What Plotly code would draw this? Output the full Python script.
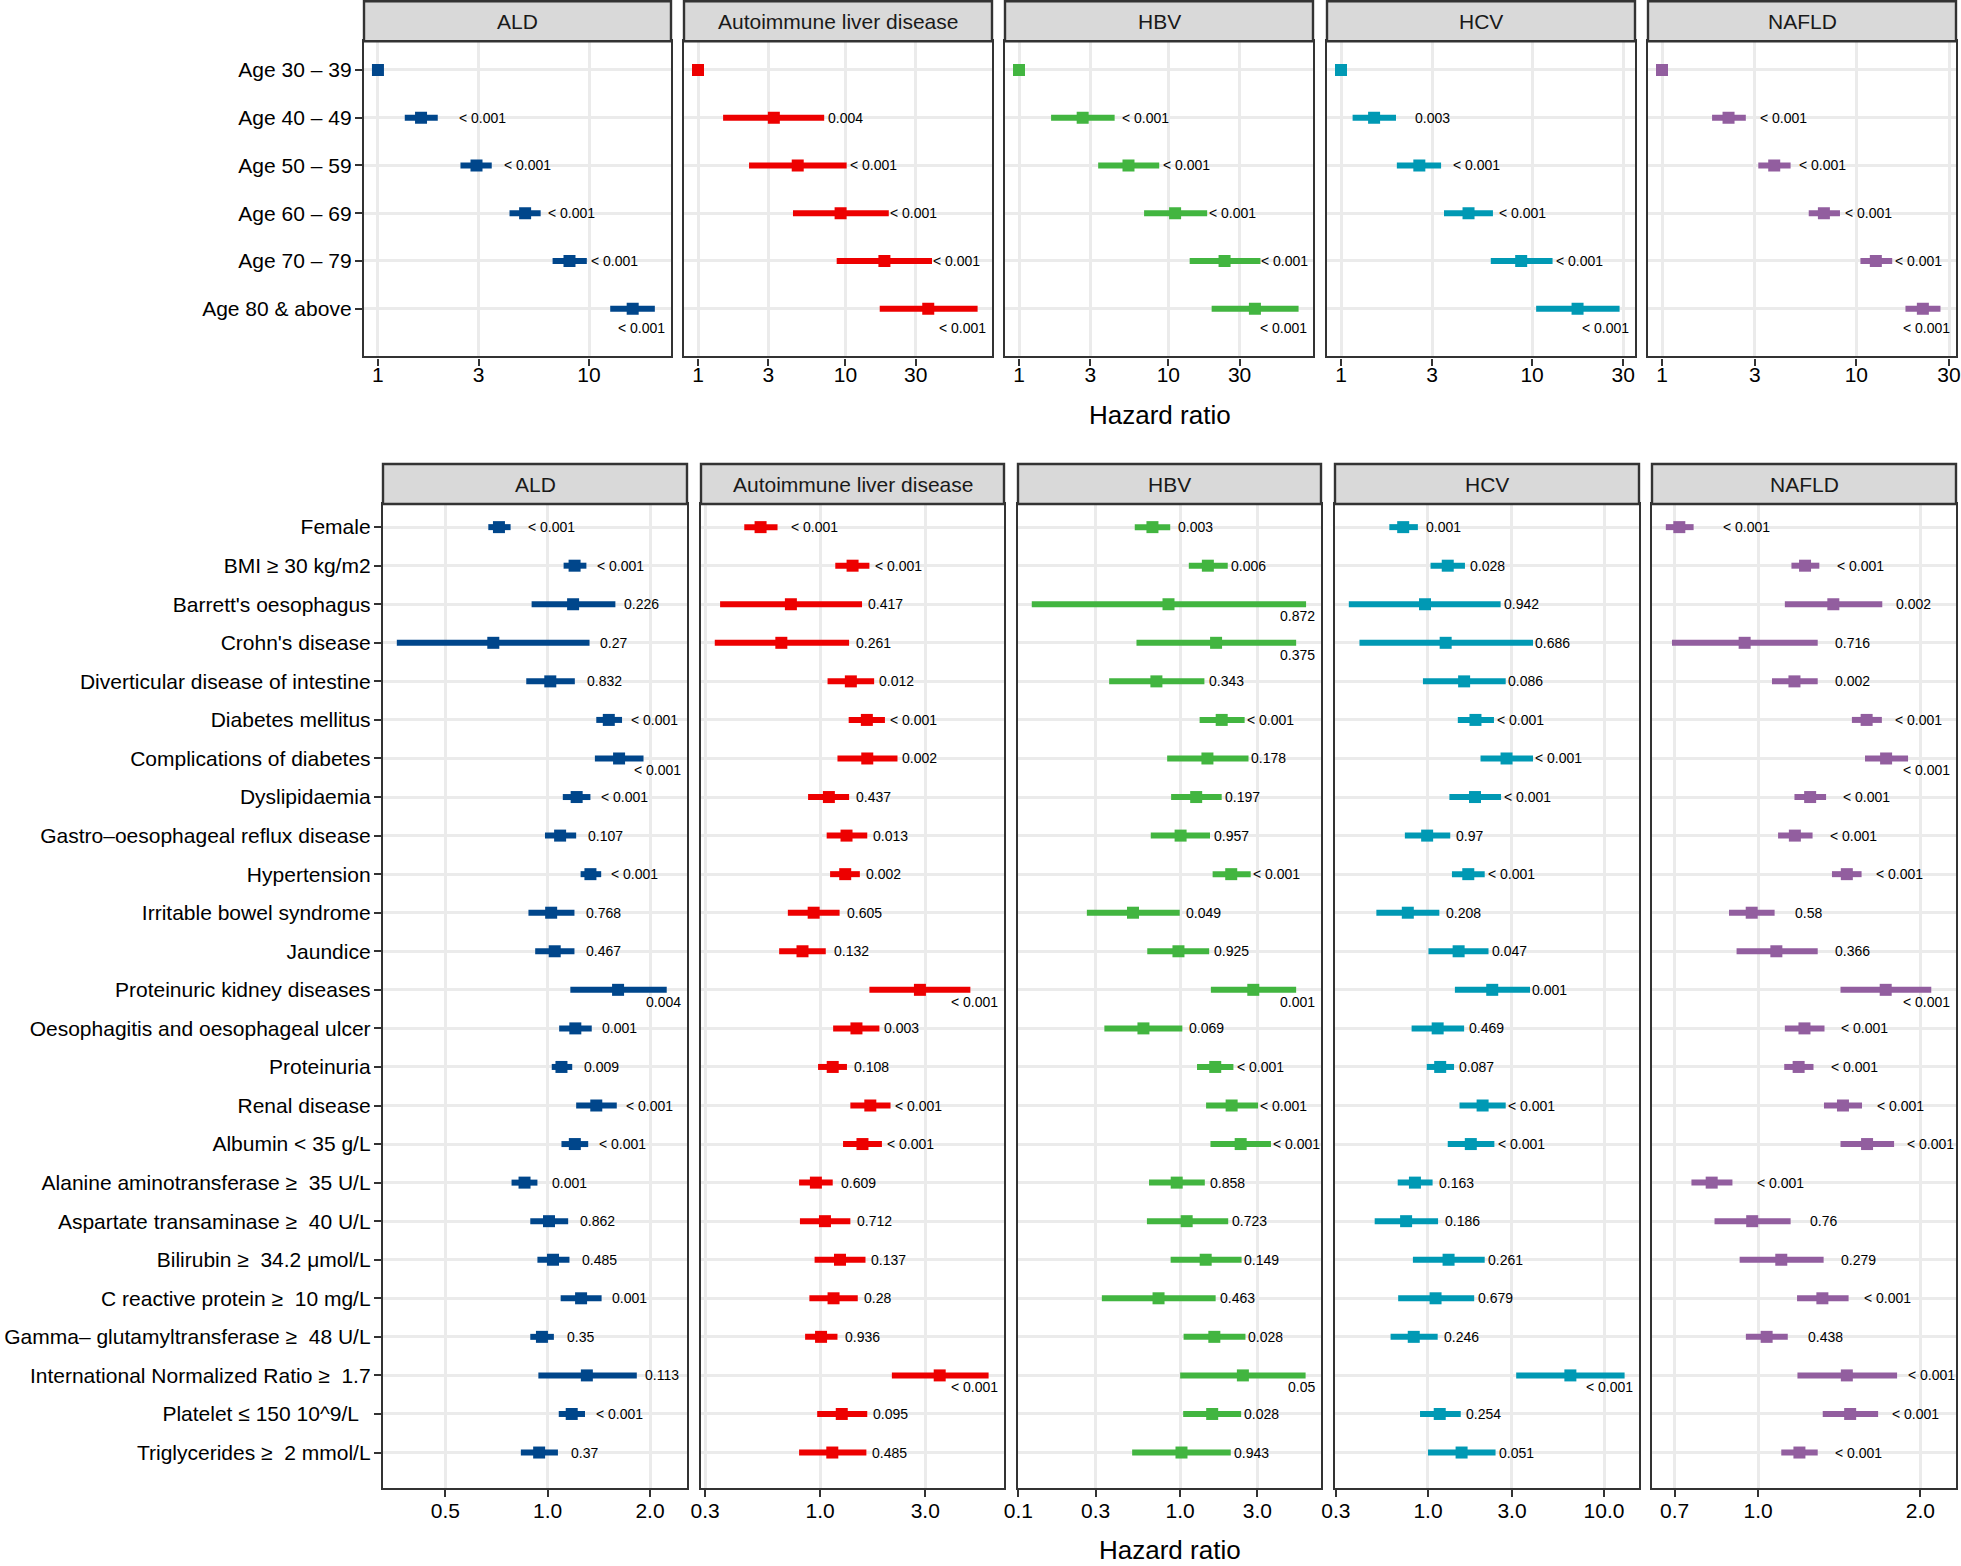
import numpy as np
import plotly.graph_objects as go

# ---------------- data ----------------
DISEASES = ["ALD", "Autoimmune liver disease", "HBV", "HCV", "NAFLD"]
COLORS = ["#00468B", "#ED0000", "#42B540", "#0099B4", "#925E9F"]

AGE_GROUPS = ["Age 30 – 39", "Age 40 – 49", "Age 50 – 59", "Age 60 – 69",
              "Age 70 – 79", "Age 80 & above"]

AGE_HR = {
    "ALD": [1, 1.60, 2.93, 4.98, 8.08, 16.1],
    "Autoimmune liver disease": [1, 3.27, 4.75, 9.28, 18.4, 36.5],
    "HBV": [1, 2.67, 5.41, 11.1, 23.8, 38.0],
    "HCV": [1, 1.49, 2.57, 4.65, 8.77, 17.3],
    "NAFLD": [1, 2.20, 3.78, 6.81, 12.6, 22.0],
}
AGE_LO = {
    "ALD": [1, 1.34, 2.46, 4.20, 6.72, 12.6],
    "Autoimmune liver disease": [1, 1.48, 2.22, 4.41, 8.73, 17.1],
    "HBV": [1, 1.64, 3.39, 6.88, 13.9, 19.5],
    "HCV": [1, 1.15, 1.96, 3.46, 6.08, 10.5],
    "NAFLD": [1, 1.81, 3.13, 5.69, 10.5, 17.9],
}
AGE_HI = {
    "ALD": [1, 1.92, 3.46, 5.90, 9.76, 20.5],
    "Autoimmune liver disease": [1, 7.18, 10.2, 19.7, 38.7, 78.9],
    "HBV": [1, 4.37, 8.69, 18.2, 41.4, 74.5],
    "HCV": [1, 1.94, 3.34, 6.24, 12.8, 28.7],
    "NAFLD": [1, 2.70, 4.59, 8.24, 15.3, 27.1],
}
AGE_P = {
    "ALD": ["", "< 0.001", "< 0.001", "< 0.001", "< 0.001", "< 0.001"],
    "Autoimmune liver disease": ["", "0.004", "< 0.001", "< 0.001", "< 0.001", "< 0.001"],
    "HBV": ["", "< 0.001", "< 0.001", "< 0.001", "< 0.001", "< 0.001"],
    "HCV": ["", "0.003", "< 0.001", "< 0.001", "< 0.001", "< 0.001"],
    "NAFLD": ["", "< 0.001", "< 0.001", "< 0.001", "< 0.001", "< 0.001"],
}
AGE_TICKS = {
    "ALD": [1, 3, 10],
    "Autoimmune liver disease": [1, 3, 10, 30],
    "HBV": [1, 3, 10, 30],
    "HCV": [1, 3, 10, 30],
    "NAFLD": [1, 3, 10, 30],
}

NBSP = "\u00a0"
COVARIATES = [
    "Female", "BMI ≥ 30 kg/m2", "Barrett's oesophagus", "Crohn's disease",
    "Diverticular disease of intestine", "Diabetes mellitus",
    "Complications of diabetes", "Dyslipidaemia",
    "Gastro–oesophageal reflux disease", "Hypertension",
    "Irritable bowel syndrome", "Jaundice", "Proteinuric kidney diseases",
    "Oesophagitis and oesophageal ulcer", "Proteinuria", "Renal disease",
    "Albumin < 35 g/L", "Alanine aminotransferase ≥" + NBSP * 2 + "35 U/L",
    "Aspartate transaminase ≥" + NBSP * 2 + "40 U/L",
    "Bilirubin ≥" + NBSP * 2 + "34.2 μmol/L",
    "C reactive protein ≥" + NBSP * 2 + "10 mg/L",
    "Gamma– glutamyltransferase ≥" + NBSP * 2 + "48 U/L",
    "International Normalized Ratio ≥" + NBSP * 2 + "1.7",
    "Platelet ≤ 150 10^9/L" + NBSP * 2,
    "Triglycerides ≥" + NBSP * 2 + "2 mmol/L",
]

COV_HR = {
    "ALD": [0.719, 1.20, 1.188, 0.692, 1.018, 1.513, 1.622, 1.217, 1.088, 1.336, 1.024, 1.049, 1.611,
            1.206, 1.098, 1.39, 1.202, 0.855, 1.009, 1.037, 1.254, 0.962, 1.304, 1.177, 0.944],
    "Autoimmune liver disease": [0.536, 1.403, 0.736, 0.666, 1.378, 1.629, 1.636, 1.095, 1.317, 1.299,
                                 0.934, 0.831, 2.838, 1.461, 1.140, 1.689, 1.556, 0.956, 1.051, 1.230,
                                 1.150, 1.009, 3.49, 1.253, 1.135],
    "HBV": [0.674, 1.483, 0.847, 1.667, 0.713, 1.806, 1.474, 1.256, 1.006, 2.068, 0.511, 0.976, 2.831,
            0.593, 1.647, 2.080, 2.366, 0.952, 1.097, 1.438, 0.735, 1.626, 2.441, 1.577, 1.019],
    "HCV": [0.723, 1.295, 0.962, 1.260, 1.604, 1.861, 2.794, 1.850, 0.989, 1.694, 0.768, 1.493, 2.317,
            1.135, 1.173, 2.043, 1.751, 0.843, 0.751, 1.309, 1.104, 0.830, 6.44, 1.166, 1.552],
    "NAFLD": [0.714, 1.222, 1.379, 0.944, 1.168, 1.590, 1.728, 1.249, 1.170, 1.461, 0.973, 1.081, 1.725,
              1.219, 1.189, 1.437, 1.593, 0.820, 0.975, 1.104, 1.316, 1.037, 1.461, 1.482, 1.193],
}
COV_LO = {
    "ALD": [0.669, 1.114, 0.897, 0.360, 0.865, 1.39, 1.377, 1.108, 0.982, 1.25, 0.878, 0.919, 1.166,
            1.081, 1.028, 1.213, 1.098, 0.783, 0.889, 0.933, 1.092, 0.889, 0.939, 1.078, 0.834],
    "Autoimmune liver disease": [0.452, 1.171, 0.351, 0.332, 1.080, 1.347, 1.198, 0.881, 1.070, 1.109,
                                 0.713, 0.651, 1.673, 1.145, 0.978, 1.371, 1.270, 0.802, 0.809, 0.943,
                                 0.893, 0.854, 2.116, 0.969, 0.802],
    "HBV": [0.524, 1.131, 0.121, 0.537, 0.364, 1.319, 0.831, 0.879, 0.658, 1.587, 0.265, 0.626, 1.548,
            0.340, 1.271, 1.446, 1.539, 0.642, 0.623, 0.873, 0.328, 1.050, 1.0, 1.044, 0.505],
    "HCV": [0.603, 1.034, 0.355, 0.408, 0.936, 1.477, 1.988, 1.323, 0.739, 1.368, 0.509, 1.006, 1.422,
            0.807, 0.984, 1.510, 1.295, 0.673, 0.498, 0.821, 0.677, 0.613, 3.17, 0.901, 1.0],
    "NAFLD": [0.674, 1.153, 1.121, 0.692, 1.061, 1.493, 1.579, 1.168, 1.089, 1.371, 0.883, 0.912, 1.422,
              1.121, 1.118, 1.325, 1.422, 0.752, 0.830, 0.924, 1.181, 0.949, 1.183, 1.318, 1.104],
}
COV_HI = {
    "ALD": [0.778, 1.30, 1.582, 1.328, 1.202, 1.655, 1.914, 1.336, 1.213, 1.437, 1.199, 1.199, 2.24,
            1.348, 1.181, 1.597, 1.316, 0.933, 1.149, 1.159, 1.441, 1.043, 1.829, 1.288, 1.072],
    "Autoimmune liver disease": [0.640, 1.673, 1.549, 1.353, 1.758, 1.968, 2.244, 1.353, 1.636, 1.514,
                                 1.225, 1.060, 4.81, 1.857, 1.323, 2.087, 1.907, 1.140, 1.371, 1.606,
                                 1.481, 1.198, 5.82, 1.636, 1.621],
    "HBV": [0.868, 1.968, 6.00, 5.21, 1.412, 2.503, 2.645, 1.806, 1.529, 2.729, 0.994, 1.511, 5.21,
            1.031, 2.133, 3.03, 3.64, 1.42, 1.981, 2.397, 1.657, 2.533, 5.96, 2.382, 2.055],
    "HCV": [0.876, 1.622, 2.587, 3.95, 2.764, 2.370, 3.95, 2.60, 1.338, 2.10, 1.160, 2.207, 3.80,
            1.604, 1.406, 2.764, 2.383, 1.062, 1.141, 2.10, 1.830, 1.135, 13.09, 1.535, 2.42],
    "NAFLD": [0.759, 1.299, 1.700, 1.290, 1.290, 1.697, 1.898, 1.337, 1.262, 1.556, 1.073, 1.290, 2.096,
              1.328, 1.267, 1.559, 1.788, 0.896, 1.149, 1.323, 1.472, 1.135, 1.811, 1.670, 1.290],
}
COV_P = {
    "ALD": ["< 0.001", "< 0.001", "0.226", "0.27", "0.832", "< 0.001", "< 0.001", "< 0.001", "0.107",
            "< 0.001", "0.768", "0.467", "0.004", "0.001", "0.009", "< 0.001", "< 0.001", "0.001",
            "0.862", "0.485", "0.001", "0.35", "0.113", "< 0.001", "0.37"],
    "Autoimmune liver disease": ["< 0.001", "< 0.001", "0.417", "0.261", "0.012", "< 0.001", "0.002",
                                 "0.437", "0.013", "0.002", "0.605", "0.132", "< 0.001", "0.003",
                                 "0.108", "< 0.001", "< 0.001", "0.609", "0.712", "0.137", "0.28",
                                 "0.936", "< 0.001", "0.095", "0.485"],
    "HBV": ["0.003", "0.006", "0.872", "0.375", "0.343", "< 0.001", "0.178", "0.197", "0.957", "< 0.001",
            "0.049", "0.925", "0.001", "0.069", "< 0.001", "< 0.001", "< 0.001", "0.858", "0.723",
            "0.149", "0.463", "0.028", "0.05", "0.028", "0.943"],
    "HCV": ["0.001", "0.028", "0.942", "0.686", "0.086", "< 0.001", "< 0.001", "< 0.001", "0.97",
            "< 0.001", "0.208", "0.047", "0.001", "0.469", "0.087", "< 0.001", "< 0.001", "0.163",
            "0.186", "0.261", "0.679", "0.246", "< 0.001", "0.254", "0.051"],
    "NAFLD": ["< 0.001", "< 0.001", "0.002", "0.716", "0.002", "< 0.001", "< 0.001", "< 0.001",
              "< 0.001", "< 0.001", "0.58", "0.366", "< 0.001", "< 0.001", "< 0.001", "< 0.001",
              "< 0.001", "< 0.001", "0.76", "0.279", "< 0.001", "0.438", "< 0.001", "< 0.001", "< 0.001"],
}
COV_TICKS = {
    "ALD": ([0.5, 1.0, 2.0], ["0.5", "1.0", "2.0"]),
    "Autoimmune liver disease": ([0.3, 1.0, 3.0], ["0.3", "1.0", "3.0"]),
    "HBV": ([0.1, 0.3, 1.0, 3.0], ["0.1", "0.3", "1.0", "3.0"]),
    "HCV": ([0.3, 1.0, 3.0, 10.0], ["0.3", "1.0", "3.0", "10.0"]),
    "NAFLD": ([0.7, 1.0, 2.0], ["0.7", "1.0", "2.0"]),
}

# ---------------- layout geometry (pixels) ----------------
W, H = 1961, 1566
FONT = "Liberation Sans, Arial, Helvetica, sans-serif"
TOP_X = [(364, 671), (684, 992), (1005, 1313), (1327, 1635), (1648, 1956)]
BOT_X = [(383, 687), (701, 1004), (1018, 1321), (1335, 1639), (1652, 1956)]
TOP_Y, TOP_STRIP = (41.3, 356.4), (1.3, 41.3)
BOT_Y, BOT_STRIP = (504, 1488), (464, 504)

GRID = "#EBEBEB"
EDGE = "#333333"
PFONT = 14
CHARW = {"<": 0.584, " ": 0.278, ".": 0.278}


def text_w(s):
    return sum(CHARW.get(c, 0.556) for c in s) * PFONT


def px(x):
    return x / W


def py(y):
    return 1 - y / H


fig = go.Figure()
layout = dict(width=W, height=H, margin=dict(l=0, r=0, t=0, b=0, autoexpand=False),
              autosize=False, paper_bgcolor="white", plot_bgcolor="white", showlegend=False,
              font=dict(family=FONT, color="black"))
shapes, annotations = [], []

rows = [
    dict(labels=AGE_GROUPS, hr=AGE_HR, lo=AGE_LO, hi=AGE_HI, p=AGE_P, xs=TOP_X, ys=TOP_Y,
         strip=TOP_STRIP, off=0.5, ybot=1.0, shift=19, title_y=415, standoff=-9),
    dict(labels=COVARIATES, hr=COV_HR, lo=COV_LO, hi=COV_HI, p=COV_P, xs=BOT_X, ys=BOT_Y,
         strip=BOT_STRIP, off=0.1, ybot=0.92, shift=12, title_y=1550, standoff=-4),
]

k = 0
for r, row in enumerate(rows):
    n = len(row["labels"])
    idx = list(range(n))
    for c, dis in enumerate(DISEASES):
        k += 1
        xa = "xaxis" if k == 1 else f"xaxis{k}"
        ya = "yaxis" if k == 1 else f"yaxis{k}"
        xr = "x" if k == 1 else f"x{k}"
        yr = "y" if k == 1 else f"y{k}"
        hr = np.array(row["hr"][dis], float)
        lo = np.array(row["lo"][dis], float)
        hi = np.array(row["hi"][dis], float)
        pv = row["p"][dis]
        col = COLORS[c]
        x0p, x1p = row["xs"][c]
        y0p, y1p = row["ys"]

        # ggplot-like range: data + label positions, 5% expansion in log space
        labx = hi + row["off"]
        vals = np.log10(np.concatenate([lo, hr, [labx[i] for i in idx if pv[i]]]))
        vmin, vmax = vals.min(), vals.max()
        ex = 0.05 * (vmax - vmin)
        rng = [vmin - ex, vmax + ex]

        if r == 0:
            tv = AGE_TICKS[dis]
            tt = [str(t) for t in tv]
        else:
            tv, tt = COV_TICKS[dis]

        layout[xa] = dict(domain=[px(x0p), px(x1p)], anchor=yr, type="log", range=rng,
                          tickvals=tv, ticktext=tt, ticks="outside", ticklen=7, tickwidth=2.4,
                          tickcolor=EDGE, showgrid=True, gridcolor=GRID, gridwidth=2.6,
                          showline=True, mirror=True, linecolor=EDGE, linewidth=2.4,
                          zeroline=False, tickfont=dict(family=FONT, size=21, color="black"),
                          fixedrange=True, automargin=False, ticklabelstandoff=row["standoff"])
        layout[ya] = dict(domain=[py(y1p), py(y0p)], anchor=xr,
                          range=[n - 1 + row["ybot"], -0.6], tickvals=idx, ticktext=row["labels"],
                          showticklabels=(c == 0), ticks="outside" if c == 0 else "",
                          ticklen=7, tickwidth=2.4, tickcolor=EDGE, showgrid=True,
                          gridcolor=GRID, gridwidth=2.6, showline=True, mirror=True,
                          linecolor=EDGE, linewidth=2.4, zeroline=False,
                          tickfont=dict(family=FONT, size=21, color="black"), fixedrange=True,
                          automargin=False, ticklabelstandoff=-1)

        # reference line at HR = 1
        shapes.append(dict(type="line", xref=xr, yref=f"{yr} domain", x0=0, x1=0, y0=0, y1=1,
                           line=dict(color="black", width=2), layer="below"))

        fig.add_trace(go.Scatter(
            x=hr, y=idx, mode="markers", xaxis=xr, yaxis=yr,
            marker=dict(symbol="square", size=12, color=col, line=dict(width=0)),
            error_x=dict(type="data", symmetric=False, array=hi - hr, arrayminus=hr - lo,
                         thickness=6, width=0, color=col),
            hoverinfo="skip"))

        # p-value labels
        span = rng[1] - rng[0]
        wpx = x1p - x0p
        for i in idx:
            s = pv[i]
            if not s:
                continue
            lx = np.log10(labx[i])
            xpix = x0p + (lx - rng[0]) / span * wpx
            tw = text_w(s)
            over = xpix + tw - x1p
            base = dict(text=s, showarrow=False, yref=yr, y=i, yanchor="middle",
                        font=dict(family=FONT, size=PFONT, color="black"),
                        borderpad=0, borderwidth=0)
            if over > 8:
                annotations.append(dict(base, xref="paper", x=px(x1p - 6), xanchor="right",
                                        yshift=-row["shift"]))
            else:
                if over > 0:
                    xpix = x1p - tw - 1
                    lx = rng[0] + (xpix - x0p) / wpx * span
                annotations.append(dict(base, xref=xr, x=lx, xanchor="left"))

        # strip
        s0, s1 = row["strip"]
        shapes.append(dict(type="rect", xref="paper", yref="paper", x0=px(x0p), x1=px(x1p),
                           y0=py(s1), y1=py(s0), fillcolor="#D9D9D9",
                           line=dict(color=EDGE, width=2.4), layer="above"))
        annotations.append(dict(text=dis, xref="paper", yref="paper", x=px((x0p + x1p) / 2),
                                y=py((s0 + s1) / 2), xanchor="center", yanchor="middle",
                                showarrow=False,
                                font=dict(family=FONT, size=21, color="#1A1A1A")))

    # axis title
    xs = row["xs"]
    annotations.append(dict(text="Hazard ratio", xref="paper", yref="paper",
                            x=px((xs[0][0] + xs[-1][1]) / 2), y=py(row["title_y"]),
                            xanchor="center", yanchor="middle", showarrow=False,
                            font=dict(family=FONT, size=26, color="black")))

layout["shapes"] = shapes
layout["annotations"] = annotations
fig.update_layout(**layout)
fig.write_html("out.html", config={"displayModeBar": False},
               post_script="document.body.style.margin='0';document.body.style.overflow='hidden';")
